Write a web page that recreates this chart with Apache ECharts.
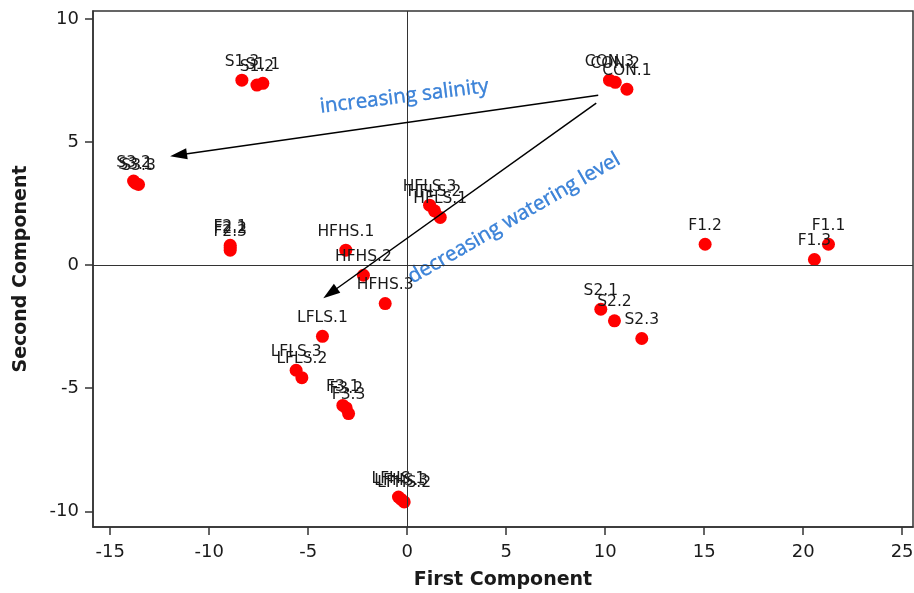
<!DOCTYPE html>
<html>
<head>
<meta charset="utf-8">
<script src="https://cdn.jsdelivr.net/npm/echarts@6/dist/echarts.min.js"></script>
<style>html,body{margin:0;padding:0;background:#fff}#c{width:914px;height:593px}</style>
</head>
<body>
<div id="c"></div>
<script>
// ---- data ----
const names = ['CON.1','CON.2','CON.3','F1.1','F1.2','F1.3','F2.1','F2.2','F2.3','F3.1','F3.2','F3.3',
  'S1.1','S1.2','S1.3','S2.1','S2.2','S2.3','S3.1','S3.2','S3.3',
  'HFHS.1','HFHS.2','HFHS.3','HFLS.1','HFLS.2','HFLS.3','LFHS.1','LFHS.2','LFHS.3','LFLS.1','LFLS.2','LFLS.3'];
const firstComp = [11.10,10.51,10.22,21.28,15.05,20.57,-8.94,-8.94,-8.94,-3.25,-3.08,-2.96,
  -7.29,-7.59,-8.35,9.78,10.47,11.85,-13.72,-13.82,-13.57,
  -3.10,-2.21,-1.11,1.67,1.38,1.13,-0.44,-0.15,-0.30,-4.28,-5.32,-5.61];
const secondComp = [7.15,7.43,7.52,0.85,0.85,0.23,0.81,0.72,0.61,-5.70,-5.80,-6.03,
  7.39,7.32,7.52,-1.79,-2.26,-2.98,3.33,3.42,3.28,
  0.61,-0.41,-1.56,1.94,2.21,2.44,-9.42,-9.62,-9.52,-2.89,-4.57,-4.27];
const xTicks = [-15,-10,-5,0,5,10,15,20,25];
const yTicks = [-10,-5,0,5,10];
const xRange = [-15.87, 25.55];
const yRange = [-10.64, 10.33];
// arrows: [startX, startY, endX, endY] (end = centre of arrow head)
const arrowSalinity = [9.65, 6.91, -11.55, 4.48];
const arrowWatering = [9.55, 6.59, -3.89, -1.14];
// annotations: text, x, y, angle
const annotText = ['increasing salinity', 'decreasing watering level'];
const annotX = [-0.15, 5.4];
const annotY = [6.85, 1.9];
const annotAngle = [7, 30];

// ---- chart ----
const chart = echarts.init(document.getElementById('c'));
const tickFont = {fontFamily: 'DejaVu Sans', fontSize: 18, color: '#1a1a1a'};
const nameFont = {fontFamily: 'DejaVu Sans', fontWeight: 'bold', fontSize: 19, color: '#1a1a1a'};
const pts = names.map((n, i) => ({name: n, value: [firstComp[i], secondComp[i]]}));
const annots = annotText.map((t, i) => ({
  name: t, value: [annotX[i], annotY[i]],
  label: {rotate: annotAngle[i]}
}));
chart.setOption({
  animation: false,
  grid: {left: 93, right: 1, top: 11, bottom: 66, show: true, borderColor: '#333', borderWidth: 1.5,
    containLabel: false, outerBoundsMode: 'none'},
  xAxis: {
    type: 'value', min: xRange[0], max: xRange[1], position: 'bottom',
    name: 'First Component', nameLocation: 'middle', nameGap: 44, nameTextStyle: nameFont,
    axisLine: {show: true, onZero: false, lineStyle: {color: '#333', width: 1.5}},
    axisTick: {show: true, inside: false, length: 8, lineStyle: {color: '#333', width: 1.5}, customValues: xTicks},
    axisLabel: Object.assign({margin: 16, customValues: xTicks, formatter: v => String(v)}, tickFont),
    splitLine: {show: false}
  },
  yAxis: {
    type: 'value', min: yRange[0], max: yRange[1], position: 'left',
    name: 'Second Component', nameLocation: 'middle', nameGap: 62, nameTextStyle: nameFont,
    axisLine: {show: true, onZero: false, lineStyle: {color: '#333', width: 1.5}},
    axisTick: {show: true, inside: false, length: 8, lineStyle: {color: '#333', width: 1.5}, customValues: yTicks},
    axisLabel: Object.assign({margin: 14, customValues: yTicks, formatter: v => String(v)}, tickFont),
    splitLine: {show: false}
  },
  series: [
    {
      type: 'scatter', data: pts, symbol: 'circle', symbolSize: 13,
      itemStyle: {color: '#ff0000', opacity: 1},
      label: {show: true, position: 'top', distance: 4, formatter: p => p.name,
        fontFamily: 'DejaVu Sans', fontSize: 15.5, color: '#1a1a1a'},
      emphasis: {disabled: true},
      markLine: {
        silent: true, symbol: 'none', label: {show: false},
        lineStyle: {color: '#333', width: 1, type: 'solid'},
        data: [{xAxis: 0}, {yAxis: 0}]
      },
      z: 3
    },
    {
      type: 'scatter', data: [], silent: true,
      markLine: {
        silent: true, symbol: ['none', 'triangle'], symbolSize: [11, 17], label: {show: false},
        lineStyle: {color: '#000', width: 1.5, type: 'solid'},
        itemStyle: {color: '#000'},
        data: [
          [{coord: [arrowSalinity[0], arrowSalinity[1]]}, {coord: [arrowSalinity[2], arrowSalinity[3]]}],
          [{coord: [arrowWatering[0], arrowWatering[1]]}, {coord: [arrowWatering[2], arrowWatering[3]]}]
        ]
      },
      z: 2
    },
    {
      type: 'scatter', data: annots, symbolSize: 0, silent: true,
      label: {show: true, position: 'inside', formatter: p => p.name, align: 'center', verticalAlign: 'middle',
        fontFamily: 'Open Sans', fontSize: 20.5, color: '#1268cf',
        textBorderColor: '#1268cf', textBorderWidth: 0.4},
      z: 4
    }
  ]
});
</script>
</body>
</html>
